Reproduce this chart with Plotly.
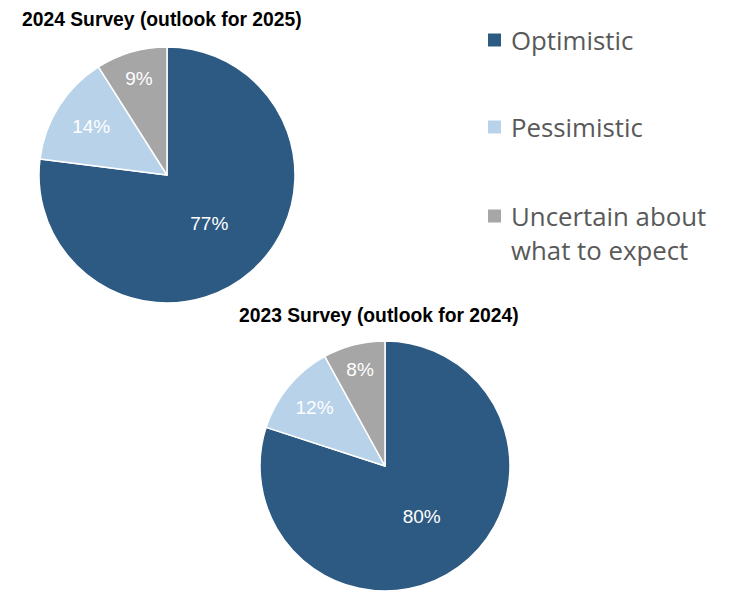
import plotly.graph_objects as go

# Survey results (share of respondents, %)
labels = ['Optimistic', 'Pessimistic', 'Uncertain about what to expect']
legend_text = ['Optimistic', 'Pessimistic', 'Uncertain about<br>what to expect']
colors = ['#2D5A82', '#B8D2E9', '#A6A6A6']

survey_2024 = [77, 14, 9]
survey_2023 = [80, 12, 8]
titles = ['2024 Survey (outlook for 2025)', '2023 Survey (outlook for 2024)']

# page has an 8px body margin, so the figure is a bit smaller than the window
OFF = 8
W, H = 732 - OFF, 606 - OFF


def px(x):
    return (x - OFF) / W


def py(y):
    return 1 - (y - OFF) / H


fig = go.Figure()

pie_style = dict(
    labels=labels,
    sort=False,
    direction='clockwise',
    rotation=0,
    marker=dict(colors=colors, line=dict(color='white', width=1.5)),
    texttemplate='%{percent:.0%}',
    textposition='inside',
    insidetextorientation='horizontal',
    textfont=dict(family='Liberation Sans, Arial', size=19, color='white'),
    showlegend=False,
    hoverinfo='label+percent',
)

fig.add_trace(go.Pie(values=survey_2024,
                     domain=dict(x=[px(39), px(295)], y=[py(303), py(47)]),
                     **pie_style))
fig.add_trace(go.Pie(values=survey_2023,
                     domain=dict(x=[px(260), px(510)], y=[py(591), py(341)]),
                     **pie_style))

# chart titles
title_pos = [(162, 20), (379, 315)]
for t, (x, y) in zip(titles, title_pos):
    fig.add_annotation(text='<b>%s</b>' % t, x=px(x), y=py(y), xref='paper', yref='paper',
                       xanchor='center', yanchor='middle', showarrow=False,
                       font=dict(family='Liberation Sans, Arial', size=19.3, color='black'))

# hand-built legend to get the wide spacing
legend_y = [40, 127, 216]
text_y = [40, 127, 233]
for lab, col, ly, ty in zip(legend_text, colors, legend_y, text_y):
    fig.add_shape(type='rect', xref='paper', yref='paper',
                  x0=px(488), x1=px(501), y0=py(ly + 6.5), y1=py(ly - 6.5),
                  fillcolor=col, line=dict(width=0))
    fig.add_annotation(text=lab, x=px(509), y=py(ty), xref='paper', yref='paper',
                       xanchor='left', yanchor='middle', align='left', showarrow=False,
                       font=dict(family='Open Sans', size=25.8, color='#595959'))

fig.update_layout(
    width=W, height=H,
    margin=dict(l=0, r=0, t=0, b=0),
    paper_bgcolor='white',
    plot_bgcolor='white',
)

fig.write_html("out.html")
